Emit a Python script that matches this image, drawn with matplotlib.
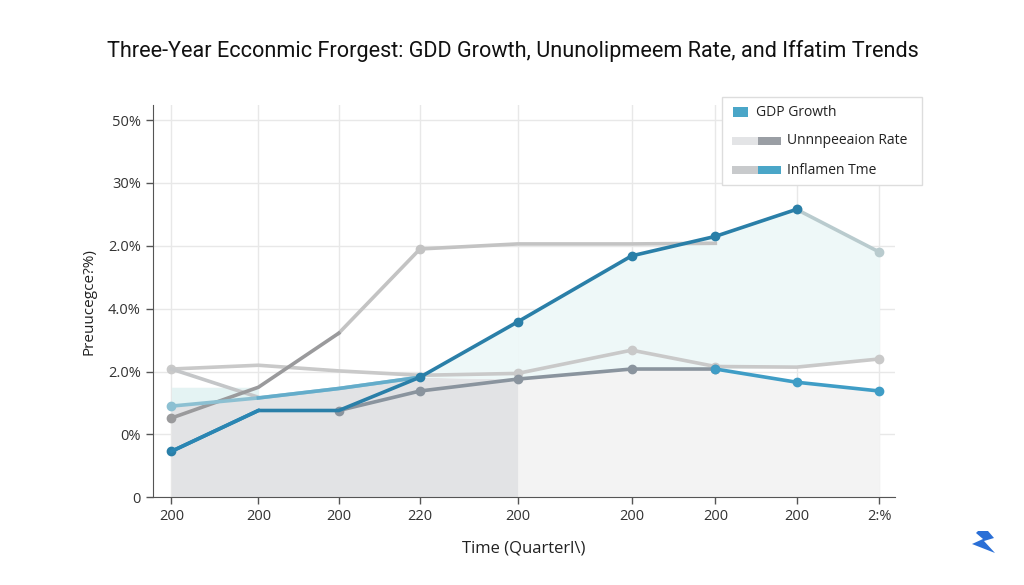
import matplotlib
matplotlib.use("Agg")
import matplotlib.pyplot as plt
from matplotlib.patches import Rectangle, Polygon

plt.rcParams['font.family'] = ['Open Sans', 'DejaVu Sans']

# quarter positions (uneven spacing as drawn) and tick labels
x_pos = [0, 1.06, 2.04, 3.03, 4.22, 5.61, 6.63, 7.62, 8.63]
x_labels = ["200", "200", "200", "220", "200", "200", "200", "200", "2:%"]
y_ticks = [0, 10, 20, 30, 40, 50, 60]
y_labels = ["0", "0%", "2.0%", "4.0%", "2.0%", "30%", "50%"]

# series values (chart units)
gdp = [7.3, 13.8, 13.8, 19.1, 27.9, 38.4, 41.5, 45.8, 39.0]
unemp = [12.6, 17.5, 26.1, 39.5, 40.3, 40.3, 40.4]
infl = [20.4, 21.0, 20.1, 19.4, 19.7, 23.4, 20.8, 20.7, 22.0]
base = [13.8, 16.9, 18.8, 20.4, 20.4]          # indices 2..6
base_tail = [20.4, 18.3, 16.9]                 # indices 6..8
light_blue = [14.5, 15.8, 17.3, 19.1]          # indices 0..3
drop = [20.4, 15.9]                            # indices 0..1
gdp_start = [7.3, 13.8]
teal_top = [17.5, 17.5]

fig = plt.figure(figsize=(10.24, 5.85), dpi=100)
ax = fig.add_axes([0.149, 0.150, 0.725, 0.6705])

# background fills
lower = light_blue + [base[2]]
ax.fill_between(x_pos[:5], 0, lower, color="#e2e3e5", zorder=1, lw=0)
ax.fill_between(x_pos[4:], 0, [base[2], base[3], base[4], base_tail[1], base_tail[2]],
                color="#f3f3f3", zorder=1, lw=0)
ax.fill_between(x_pos[4:], [base[2], base[3], base[4], infl[7], infl[8]], gdp[4:],
                color="#eef8f8", zorder=1, lw=0)
ax.fill_between(x_pos[3:5], [light_blue[3], base[2]], gdp[3:5],
                color="#eef8f8", zorder=1, lw=0)
ax.fill_between(x_pos[:2], light_blue[:2], teal_top, color="#e4f3f3", zorder=1, lw=0)

lw = 2.6
ms = 6
# inflation (light gray)
ax.plot(x_pos, infl, color="#c9c9c9", lw=lw, marker="o", ms=ms, zorder=3,
        markevery=[0, 4, 5, 6, 8])
ax.plot(x_pos[:2], drop, color="#c4c6c8", lw=lw, zorder=3)
# rising unemployment line
ax.plot(x_pos[:3], unemp[:3], color="#9a9a9c", lw=lw, marker="o", ms=ms, zorder=4,
        markevery=[0])
ax.plot(x_pos[2:7], unemp[2:], color="#c3c3c3", lw=lw, marker="o", ms=ms, zorder=3,
        markevery=[1])
# light blue line
ax.plot(x_pos[:4], light_blue, color="#8cc0d2", lw=lw, marker="o", ms=ms, zorder=4,
        markevery=[0])
ax.plot(x_pos[1:4], light_blue[1:], color="#5aa8c9", lw=lw, zorder=4, alpha=0.8)
# base dark gray line
ax.plot(x_pos[2:7], base, color="#8a949e", lw=lw, marker="o", ms=ms, zorder=5)
ax.plot(x_pos[6:], base_tail, color="#3f9dc6", lw=lw, marker="o", ms=ms, zorder=5)
# GDP growth
ax.plot(x_pos[:8], gdp[:8], color="#2a7fa8", lw=lw, marker="o", ms=ms, zorder=6,
        markevery=[0, 3, 4, 5, 6, 7])
ax.plot(x_pos[7:], gdp[7:], color="#b9cbce", lw=lw, marker="o", ms=ms, zorder=5)
ax.plot(x_pos[:2], gdp_start, color="#2a86b3", lw=lw, zorder=6)

ax.set_xlim(-0.23, 8.82)
ax.set_ylim(0, 62.4)
ax.set_xticks(x_pos)
ax.set_xticklabels(x_labels)
ax.set_yticks(y_ticks)
ax.set_yticklabels(y_labels)
ax.tick_params(colors="#555555", labelcolor="#333333", labelsize=10.5, length=5, width=1)
ax.grid(True, color="#e8e8e8", lw=1)
ax.set_axisbelow(True)
for s in ["top", "right"]:
    ax.spines[s].set_visible(False)
for s in ["left", "bottom"]:
    ax.spines[s].set_color("#555555")

ax.set_xlabel("Time (Quarterl\\)", fontsize=12, color="#222222", labelpad=12)
ax.set_ylabel("Preuucegce?%)", fontsize=11, color="#222222", labelpad=8)

fig.suptitle("Three-Year Ecconmic Frorgest: GDD Growth, Ununolipmeem Rate, and Iffatim Trends",
             fontsize=15.6, x=0.501, y=0.932, color="#111111",
             family=["Roboto", "DejaVu Sans"])

# legend box (figure pixel coordinates)
def fx(px):
    return px / 1024.0

def fy(py):
    return 1 - py / 585.0

fig.patches.append(Rectangle((fx(722), fy(185)), fx(200), 88 / 585.0, transform=fig.transFigure,
                             facecolor="white", edgecolor="#dddddd", lw=1, zorder=10))
legend_rows = [("GDP Growth", None, "#4aa6c8", 112),
               ("Unnnpeeaion Rate", "#e3e4e6", "#9a9ea4", 141),
               ("Inflamen Tme", "#c8cacc", "#4aa6c8", 170)]
for label, c1, c2, py in legend_rows:
    if c1 is None:
        fig.patches.append(Rectangle((fx(733), fy(py + 5)), fx(15), 10 / 585.0,
                                     transform=fig.transFigure, facecolor=c2, lw=0, zorder=11))
        fig.text(fx(756), fy(py), label, fontsize=10, va="center", color="#222222", zorder=12)
    else:
        fig.patches.append(Rectangle((fx(732), fy(py + 4)), fx(26), 8 / 585.0,
                                     transform=fig.transFigure, facecolor=c1, lw=0, zorder=11))
        fig.patches.append(Rectangle((fx(758), fy(py + 4)), fx(23), 8 / 585.0,
                                     transform=fig.transFigure, facecolor=c2, lw=0, zorder=11))
        fig.text(fx(787), fy(py), label, fontsize=10, va="center", color="#222222", zorder=12)

# small logo bottom right
logo = [(978, 531), (988, 531), (994, 538), (984, 541), (995, 553), (972, 544), (983, 539), (976, 533)]
fig.patches.append(Polygon([(fx(a), fy(b)) for a, b in logo], closed=True,
                           transform=fig.transFigure, facecolor="#2a6fd6", lw=0))

fig.savefig("out.png", dpi=100, facecolor="white")
